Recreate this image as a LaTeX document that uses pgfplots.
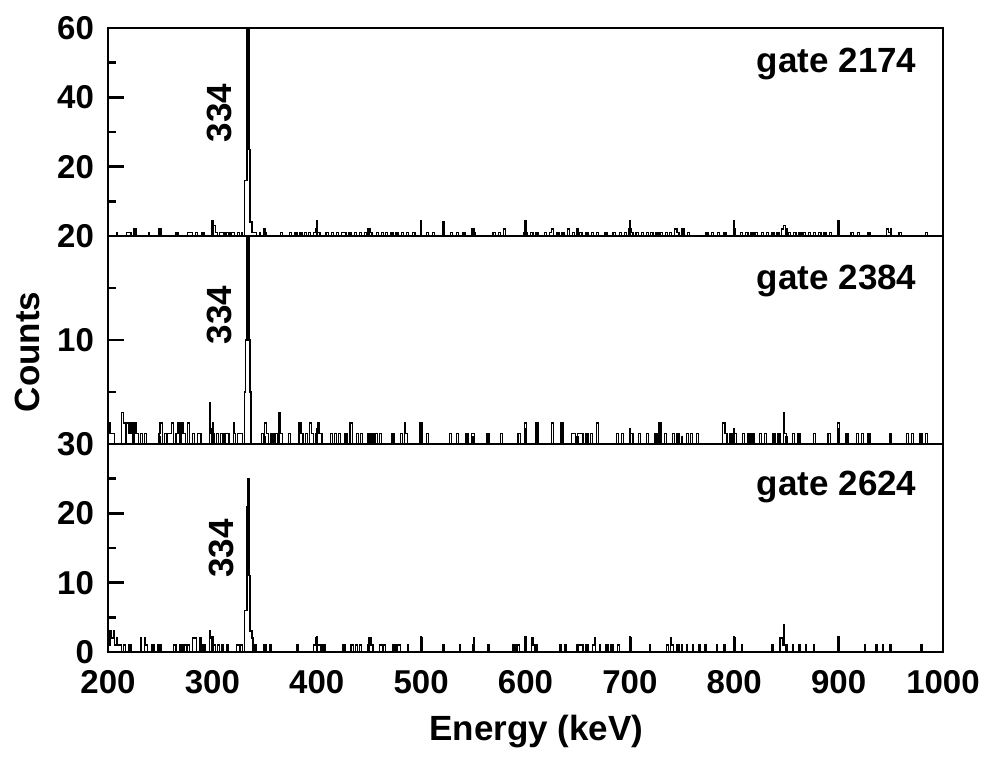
\documentclass[border=0pt]{standalone}
\usepackage{fontspec}
\setmainfont{Liberation Sans}
\usepackage{pgfplots}
\pgfplotsset{compat=1.18}
\tikzset{lab/.style={font=\fontsize{17.5}{20}\selectfont\bfseries}}
\begin{document}
\begin{tikzpicture}
\useasboundingbox (-54pt,14pt) rectangle (438.5pt,-365pt);
\pgfplotsset{
  panel/.style={
    scale only axis, width=417.5pt, height=104pt,
    xmin=200, xmax=1000,
    xtick={200,300,...,1000}, minor xtick={250,350,...,950},
    tick align=inside, tick pos=left,
    major tick length=8pt, minor tick length=4pt,
    tick style={line width=1.2pt, black},
    axis line style={line width=1.4pt},
    ticklabel style={font=\fontsize{16.5}{19}\selectfont\bfseries},
    /pgf/number format/assume math mode=true,
    /pgf/number format/1000 sep={},
    yticklabel style={xshift=-3.5pt},
    xticklabel style={yshift=-5.5pt},
    anchor=north west,
  },
  spec/.style={const plot, black, line width=0.7pt},
}
% ---------- top panel: gate 2174 ----------
\begin{axis}[panel, at={(0pt,0pt)}, ymin=0, ymax=60,
  ytick={20,40,60}, minor ytick={10,30,50}, xticklabels={}]
\addplot[spec] coordinates {
(200,0)(208,1)(209,0)(218,1)(222,0)(225,2)(227,0)(239,1)(240,0)(249,2)(251,0)
(265,1)(267,0)(276,1)(278,1)(281,0)(284,1)(286,0)(290,1)(292,0)
(299,2)(301,3)(303,1)(305,0)(307,1)(309,1)(311,0)(313,1)(316,0)(318,1)(321,0)
(324,1)(326,0)(328,1)(329,0)
(331,16)(333,60)(335,25)(336,4)(338,1)(342,0)
(345,1)(346,0)(350,1)(352,0)(365,1)(367,0)
(374,1)(376,0)(379,1)(381,0)(384,1)(386,0)(388,1)(390,0)(392,1)(394,0)
(397,1)(399,2)(401,1)(403,0)
(409,1)(411,0)(414,1)(416,0)(419,1)(421,0)(424,1)(426,1)(428,0)(431,1)(433,0)
(436,1)(438,0)(441,1)(443,0)(446,1)(448,0)(449,2)(451,1)(453,0)
(457,1)(459,0)(462,1)(464,0)(466,1)(468,0)(471,1)(473,0)(476,1)(478,0)
(481,1)(483,0)(486,1)(488,0)(492,1)(494,0)
(505,1)(507,0)(511,1)(513,0)(521,4)(522,0)
(528,1)(530,0)(534,1)(536,0)(540,1)(542,0)(548,2)(550,1)(552,0)
(569,1)(571,0)(574,1)(576,0)(579,2)(581,0)
(598,1)(600,1)(602,0)(605,1)(607,0)(610,1)(612,0)
(618,1)(620,0)(623,1)(625,2)(627,0)(630,1)(632,0)(635,1)(637,0)(640,2)(642,0)(645,1)(647,0)
(652,1)(654,0)(658,1)(660,0)(663,1)(665,0)(668,1)(670,0)(676,1)(678,0)(684,1)(686,0)
(690,1)(692,0)(695,1)(697,0)(699,2)(701,1)(703,0)
(706,1)(708,0)(711,1)(713,0)(716,1)(718,0)(720,1)(722,0)(725,1)(727,0)(729,1)(731,0)
(734,1)(736,0)(738,1)(740,0)(743,2)(745,1)(747,0)(750,2)(752,0)(755,1)(757,0)
(773,1)(775,0)(778,1)(780,0)(784,1)(786,0)(790,1)(792,0)(799,2)(801,0)
(806,1)(808,0)(811,1)(813,0)(816,1)(818,0)(820,1)(822,0)(826,1)(828,0)(831,1)(833,0)
(836,1)(838,0)(841,1)(843,0)(845,2)(847,3)(849,0)
(852,1)(854,0)(857,1)(859,0)(862,1)(864,0)(866,1)(868,0)(871,1)(873,0)(876,1)(878,0)
(881,1)(883,0)(886,1)(888,0)(891,1)(893,0)(899,1)(901,0)
(912,1)(914,0)(918,1)(920,0)(928,1)(930,0)(946,2)(948,1)(950,0)(958,1)(960,0)
(983,1)(985,0)(1000,0)
};
\node[lab, rotate=90] at (axis cs:307,35.5) {334};
\node[lab, anchor=east, inner sep=0pt] at (axis cs:975,49.6) {gate 2174};
\end{axis}
% ---------- middle panel: gate 2384 ----------
\begin{axis}[panel, at={(0pt,-104pt)}, ymin=0, ymax=20,
  ytick={10,20}, minor ytick={5,15}, xticklabels={}]
\addplot[spec] coordinates {
(200,2)(202,1)(206,0)(213,3)(215,2)(217,0)(218,2)(220,1)(222,2)(224,0)(225,2)(227,1)(229,0)
(231,1)(233,0)(235,1)(237,0)(249,1)(250,2)(252,0)
(254,1)(256,0)(257,1)(259,1)(261,2)(263,0)(265,1)(267,2)(269,0)(270,2)(272,1)(274,0)(276,2)(278,0)
(281,1)(283,0)(286,1)(289,0)(297,4)(298,1)(300,2)(301,1)(302,0)
(304,1)(306,0)(308,1)(310,0)(312,1)(314,1)(316,0)(320,2)(321,1)(322,0)(324,1)(326,1)(329,0)
(331,5)(332,10)(333,22)(335,10)(336,5)(337,0)
(347,1)(349,0)(350,2)(352,1)(354,0)(356,1)(358,0)(360,1)(363,0)(364,3)(365,1)(367,0)
(373,1)(375,0)(383,2)(385,1)(387,0)(389,1)(391,0)(393,2)(395,1)(397,0)(399,1)(401,2)(402,1)(405,0)
(413,1)(415,0)(417,1)(419,0)(421,1)(423,0)(427,1)(429,0)(432,2)(434,0)
(438,1)(440,0)(442,1)(444,0)(449,1)(451,0)(452,1)(454,0)(456,1)(458,0)(460,1)(462,0)
(472,1)(474,0)(480,1)(482,0)(484,2)(485,1)(487,0)(499,2)(501,0)(505,1)(507,0)
(527,1)(529,0)(534,1)(536,0)(543,1)(545,0)(548,1)(551,0)(563,1)(565,0)(576,1)(578,0)
(593,1)(595,0)(599,2)(601,0)(610,2)(612,0)(625,2)(627,0)(634,2)(636,0)
(644,1)(648,0)(650,1)(655,0)(658,1)(660,0)(662,1)(664,0)(668,2)(670,0)
(687,1)(689,0)(692,1)(694,0)(700,1)(703,0)(708,1)(710,0)(716,1)(718,0)
(724,1)(726,0)(728,2)(730,0)(733,1)(735,0)(741,1)(743,0)(745,1)(747,0)
(754,1)(756,0)(758,1)(760,0)(764,1)(766,0)
(789,2)(791,1)(793,0)(796,1)(798,0)(800,1)(802,0)(808,1)(810,0)(813,1)(815,0)(817,1)(819,0)
(824,1)(826,0)(829,1)(831,0)(837,1)(839,0)(842,1)(844,0)(847,3)(848,1)(850,0)
(856,1)(858,0)(861,1)(863,0)(876,1)(878,0)(890,1)(892,0)(899,2)(901,0)(907,1)(909,0)
(917,1)(919,0)(922,1)(924,0)(928,1)(930,0)(949,1)(950,0)
(965,1)(967,0)(970,1)(972,0)(978,1)(980,0)(983,1)(985,0)(1000,0)
};
\node[lab, rotate=90] at (axis cs:307,12.4) {334};
\node[lab, anchor=east, inner sep=0pt] at (axis cs:975,15.65) {gate 2384};
\end{axis}
% ---------- bottom panel: gate 2624 ----------
\begin{axis}[panel, at={(0pt,-208pt)}, ymin=0, ymax=30,
  ytick={0,10,20,30}, minor ytick={5,15,25}]
\addplot[spec] coordinates {
(200,1)(202,3)(203,2)(205,3)(206,1)(208,2)(209,1)(213,0)(215,1)(217,0)(220,1)(222,0)
(231,2)(232,0)(235,2)(236,1)(238,0)(242,1)(244,0)(248,1)(251,0)
(263,1)(265,0)(269,1)(271,0)(273,1)(275,0)(276,1)(278,0)(281,2)(285,0)(288,2)(289,0)
(291,1)(293,0)(297,3)(298,2)(300,1)(303,0)(305,1)(307,0)(309,1)(310,0)(314,1)(315,0)
(323,1)(326,0)(327,1)(329,0)
(331,6)(333,21)(334,25)(335,11)(336,3)(338,2)(339,0)
(341,1)(342,0)(350,1)(352,0)(355,1)(356,0)(381,1)(382,0)
(397,1)(399,2)(401,1)(404,0)(406,1)(408,0)(425,1)(427,0)
(433,1)(435,0)(437,1)(439,0)(441,1)(443,0)(449,1)(450,2)(452,1)(454,0)
(460,1)(463,0)(464,1)(466,0)(473,1)(475,0)(477,1)(480,0)(487,1)(488,0)
(500,2)(501,0)(521,1)(522,0)(537,1)(538,0)(550,2)(551,0)(564,1)(565,0)
(588,1)(590,0)(592,1)(594,0)(599,2)(601,0)(606,2)(607,1)(609,0)(610,1)(611,0)
(633,1)(634,0)(638,1)(639,0)(649,1)(655,0)(658,1)(660,0)(664,1)(666,2)(667,0)
(671,1)(672,0)(677,1)(679,0)(682,1)(684,0)(688,1)(690,0)(700,2)(701,0)(719,1)(720,0)
(735,1)(737,0)(739,2)(740,1)(742,0)(745,1)(747,0)
(754,1)(755,0)(760,1)(761,0)(766,1)(767,0)(772,1)(773,0)(783,1)(784,0)(790,1)(791,0)
(800,2)(801,0)(807,1)(808,0)(836,1)(837,0)(844,2)(846,1)(847,4)(848,1)(850,0)
(856,1)(857,0)(862,1)(863,0)(868,1)(869,0)(876,1)(877,0)(900,2)(901,0)
(925,1)(926,0)(936,1)(937,0)(942,1)(943,0)(949,1)(950,0)(979,1)(980,0)(1000,0)
};
\node[lab, rotate=90] at (axis cs:309,14.9) {334};
\node[lab, anchor=east, inner sep=0pt] at (axis cs:975,23.8) {gate 2624};
\end{axis}
\node[lab, rotate=90] at (-40.5pt,-162pt) {Counts};
\node[lab, anchor=base] at (214.25pt,-356pt) {Energy (keV)};
\end{tikzpicture}
\end{document}
